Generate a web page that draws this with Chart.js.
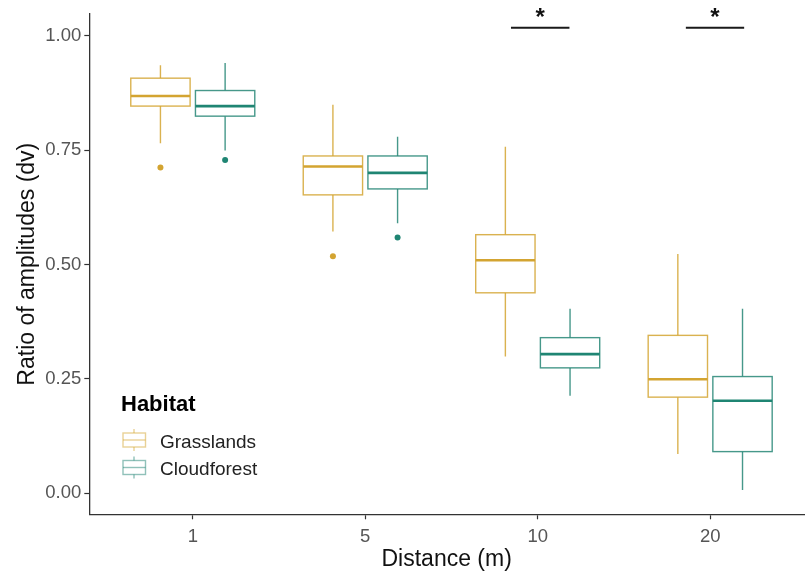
<!DOCTYPE html>
<html>
<head>
<meta charset="utf-8">
<script src="https://cdn.jsdelivr.net/npm/chart.js@4.4.1/dist/chart.umd.min.js"></script>
<style>
  html, body { margin: 0; padding: 0; background: #fff; overflow: hidden; }
</style>
</head>
<body>
<canvas id="chart" width="808" height="577"></canvas>
<script>
// Distance categories (x axis)
const distances = ['1', '5', '10', '20'];

// Grasslands box stats, one value per distance
const grassMin      = [0.765, 0.572, 0.299, 0.086];
const grassQ1       = [0.846, 0.652, 0.438, 0.210];
const grassMedian   = [0.868, 0.714, 0.509, 0.249];
const grassQ3       = [0.907, 0.737, 0.565, 0.345];
const grassMax      = [0.935, 0.849, 0.757, 0.523];
const grassOutliers = [[0.712], [0.518], [], []];

// Cloudforest box stats
const cloudMin      = [0.749, 0.590, 0.213, 0.007];
const cloudQ1       = [0.824, 0.665, 0.274, 0.091];
const cloudMedian   = [0.846, 0.700, 0.304, 0.202];
const cloudQ3       = [0.880, 0.737, 0.340, 0.255];
const cloudMax      = [0.940, 0.779, 0.403, 0.403];
const cloudOutliers = [[0.728], [0.559], [], []];

// y ticks
const yTicks = [0, 0.25, 0.5, 0.75, 1];

// significance brackets (x in category units, 1..4)
const sigFrom  = [2.845, 3.859];
const sigTo    = [3.184, 4.197];
const sigY     = [1.017, 1.017];
const sigLabel = ['*', '*'];

const FONT = "'Liberation Sans', Arial, sans-serif";
const DODGE = 0.1875;   // offset of each box from category centre
const HALF = 0.172;     // half box width

const series = [
  { name: 'Grasslands', color: '#D3A431', line: 'rgba(211,164,49,0.85)', offset: -DODGE,
    min: grassMin, q1: grassQ1, med: grassMedian, q3: grassQ3, max: grassMax, out: grassOutliers },
  { name: 'Cloudforest', color: '#1F8573', line: 'rgba(38,134,118,0.85)', offset: DODGE,
    min: cloudMin, q1: cloudQ1, med: cloudMedian, q3: cloudQ3, max: cloudMax, out: cloudOutliers }
];

// outlier points as scatter datasets
const datasets = series.map(s => ({
  label: s.name,
  data: s.out.flatMap((vals, i) => vals.map(v => ({ x: i + 1 + s.offset, y: v }))),
  pointRadius: 3,
  pointBackgroundColor: s.color,
  pointBorderWidth: 0,
  showLine: false
}));

const boxPlugin = {
  id: 'boxes',
  beforeDatasetsDraw(chart) {
    const { ctx, scales: { x, y } } = chart;
    ctx.save();
    series.forEach(s => {
      distances.forEach((d, i) => {
        const c = i + 1 + s.offset;
        const cx = x.getPixelForValue(c);
        const l = x.getPixelForValue(c - HALF);
        const r = x.getPixelForValue(c + HALF);
        const yMin = y.getPixelForValue(s.min[i]);
        const yQ1 = y.getPixelForValue(s.q1[i]);
        const yMed = y.getPixelForValue(s.med[i]);
        const yQ3 = y.getPixelForValue(s.q3[i]);
        const yMax = y.getPixelForValue(s.max[i]);
        ctx.strokeStyle = s.line;
        ctx.lineWidth = 1.4;
        // whiskers
        ctx.beginPath();
        ctx.moveTo(cx, yMax); ctx.lineTo(cx, yQ3);
        ctx.moveTo(cx, yQ1); ctx.lineTo(cx, yMin);
        ctx.stroke();
        // box
        ctx.fillStyle = '#fff';
        ctx.fillRect(l, yQ3, r - l, yQ1 - yQ3);
        ctx.strokeRect(l, yQ3, r - l, yQ1 - yQ3);
        // median
        ctx.strokeStyle = s.color;
        ctx.lineWidth = 2.6;
        ctx.beginPath();
        ctx.moveTo(l, yMed); ctx.lineTo(r, yMed);
        ctx.stroke();
      });
    });
    ctx.restore();
  },
  afterDraw(chart) {
    const { ctx, scales: { x, y } } = chart;
    ctx.save();
    // significance bars
    ctx.strokeStyle = '#1a1a1a';
    ctx.lineWidth = 2;
    ctx.fillStyle = '#111';
    ctx.font = 'bold 24px ' + FONT;
    ctx.textAlign = 'center';
    ctx.textBaseline = 'alphabetic';
    sigFrom.forEach((f, k) => {
      const x0 = x.getPixelForValue(f), x1 = x.getPixelForValue(sigTo[k]);
      const yy = y.getPixelForValue(sigY[k]);
      ctx.beginPath();
      ctx.moveTo(x0, yy); ctx.lineTo(x1, yy);
      ctx.stroke();
      ctx.fillText(sigLabel[k], (x0 + x1) / 2, yy - 2.5);
    });

    // legend
    ctx.textAlign = 'left';
    ctx.fillStyle = '#000';
    ctx.font = 'bold 22px ' + FONT;
    ctx.fillText('Habitat', 121, 410.5);
    ctx.font = '19px ' + FONT;
    series.forEach((s, k) => {
      const cy = 440 + k * 27.5;
      ctx.strokeStyle = s.line;
      ctx.globalAlpha = 0.6;
      ctx.lineWidth = 1.4;
      ctx.beginPath();
      ctx.moveTo(134, cy - 11); ctx.lineTo(134, cy - 7);
      ctx.moveTo(134, cy + 7); ctx.lineTo(134, cy + 11);
      ctx.stroke();
      ctx.strokeRect(123, cy - 7, 22.5, 14);
      ctx.beginPath();
      ctx.moveTo(123, cy); ctx.lineTo(145.5, cy);
      ctx.stroke();
      ctx.globalAlpha = 1;
      ctx.fillStyle = '#222';
      ctx.fillText(s.name, 160, cy + 7.5);
    });
    ctx.restore();
  }
};

new Chart(document.getElementById('chart'), {
  type: 'scatter',
  data: { datasets },
  options: {
    responsive: false,
    animation: false,
    layout: { padding: { top: 10.5, right: 0, left: 0, bottom: 0 } },
    plugins: {
      legend: { display: false },
      tooltip: { enabled: false }
    },
    scales: {
      x: {
        type: 'linear',
        min: 0.4,
        max: 4.544,
        afterBuildTicks: axis => { axis.ticks = distances.map((d, i) => ({ value: i + 1 })); },
        afterFit: axis => { axis.height = 62.7; },
        ticks: {
          callback: v => distances[v - 1],
          font: { family: FONT, size: 18.5 },
          color: '#555',
          padding: 7,
          maxRotation: 0
        },
        grid: { drawOnChartArea: false, drawTicks: true, tickLength: 5, tickColor: '#333', tickWidth: 1.2 },
        border: { display: true, color: '#333', width: 1.3 },
        title: {
          display: true,
          text: 'Distance (m)',
          font: { family: FONT, size: 23 },
          color: '#111',
          padding: { top: 0, bottom: 4 }
        }
      },
      y: {
        type: 'linear',
        min: -0.046,
        max: 1.047,
        afterBuildTicks: axis => { axis.ticks = yTicks.map(v => ({ value: v })); },
        afterFit: axis => { axis.width = 89.3; },
        ticks: {
          callback: v => v.toFixed(2),
          font: { family: FONT, size: 18.5 },
          color: '#555',
          padding: 3
        },
        grid: { drawOnChartArea: false, drawTicks: true, tickLength: 5, tickColor: '#333', tickWidth: 1.2 },
        border: { display: true, color: '#333', width: 1.3 },
        title: {
          display: true,
          text: 'Ratio of amplitudes (dv)',
          font: { family: FONT, size: 23 },
          color: '#111',
          padding: { top: 14, bottom: 0 }
        }
      }
    }
  },
  plugins: [boxPlugin]
});
</script>
</body>
</html>
